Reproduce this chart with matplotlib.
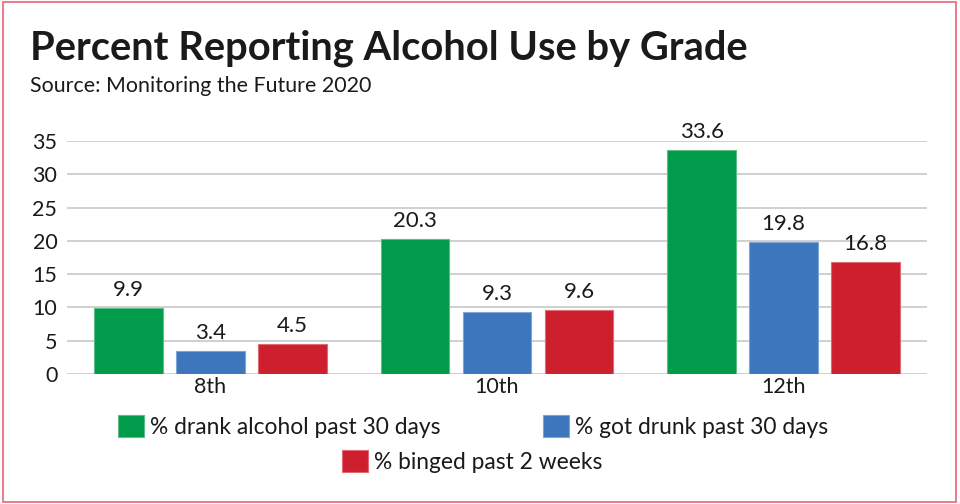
import numpy as np
import matplotlib
matplotlib.use("Agg")
import matplotlib.pyplot as plt
from matplotlib.patches import Rectangle

# ----------------------------
# Chart data
# ----------------------------
grades = ["8th", "10th", "12th"]
drank_30 = [9.9, 20.3, 33.6]
drunk_30 = [3.4, 9.3, 19.8]
binged_2wk = [4.5, 9.6, 16.8]
series_labels = ["% drank alcohol past 30 days",
                 "% got drunk past 30 days",
                 "% binged past 2 weeks"]
y_ticks = [0, 5, 10, 15, 20, 25, 30, 35]

colors = ["#009b4b", "#3d76bc", "#ce1f2f"]
edge_colors = ["#5dbd86", "#7ea5d6", "#e06a74"]

plt.rcParams['font.family'] = ['Lato', 'DejaVu Sans']
text_color = "#1a1a1a"

fig = plt.figure(figsize=(9.6, 5.04), dpi=100)
ax = fig.add_axes([0.0698, 0.258, 0.8958, 0.462])

x = np.arange(len(grades))
width = 0.24
step = 0.286
all_series = [drank_30, drunk_30, binged_2wk]

handles = []
for i, vals in enumerate(all_series):
    bars = ax.bar(x + (i - 1) * step, vals, width, color=colors[i],
                  edgecolor=edge_colors[i], linewidth=0.8,
                  label=series_labels[i], zorder=3)
    handles.append(bars)
    for b, v in zip(bars, vals):
        ax.annotate(f"{v}", (b.get_x() + b.get_width() / 2, v),
                    xytext=(0, 6), textcoords="offset points",
                    ha="center", va="bottom", fontsize=16, color=text_color)

ax.set_xlim(-0.5, 2.5)
ax.set_ylim(0, 35)
ax.set_yticks(y_ticks)
ax.set_xticks(x)
ax.set_xticklabels(grades)
ax.tick_params(axis="both", length=0, labelsize=15.5, colors=text_color)
ax.tick_params(axis="y", pad=7)
ax.tick_params(axis="x", pad=2)
ax.grid(axis="y", color="#c8c8c8", linewidth=1.2, zorder=0)
for s in ax.spines.values():
    s.set_visible(False)

# Title and source
fig.text(0.031, 0.905, "Percent Reporting Alcohol Use by Grade",
         fontsize=28.7, fontweight="bold", color=text_color, va="center")
fig.text(0.031, 0.83, "Source: Monitoring the Future 2020",
         fontsize=15.4, color=text_color, va="center")

# Legend: two rows
leg_kw = dict(frameon=False, fontsize=16.4, handlelength=1.14, handleheight=1.1,
              handletextpad=0.26, borderpad=0, borderaxespad=0, labelcolor=text_color)
fig.legend(handles[:2], series_labels[:2], ncol=2, columnspacing=4.5,
           loc="center left", bbox_to_anchor=(0.123, 0.154), **leg_kw)
fig.legend(handles[2:], series_labels[2:], ncol=1,
           loc="center left", bbox_to_anchor=(0.356, 0.084), **leg_kw)

# Pink border around the figure
fig.patches.append(Rectangle((0.003, 0.004), 0.993, 0.992, transform=fig.transFigure,
                             fill=False, edgecolor="#e8808f", linewidth=1.5))

fig.savefig("out.png", dpi=100)
